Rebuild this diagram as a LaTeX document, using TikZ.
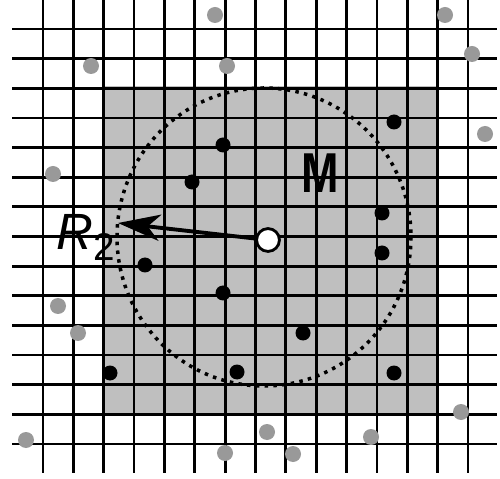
\documentclass[tikz,border=0pt]{standalone}
\usepackage{fontspec}
\setmainfont{Liberation Sans}
\usetikzlibrary{arrows.meta}
\definecolor{boxgray}{gray}{0.75}
\definecolor{dotgray}{gray}{0.6}
\tikzset{
  gridline/.style={line width=1.6pt},
  blackdot/.style={fill=black},
  graydot/.style={fill=dotgray}
}
\begin{document}
\begin{tikzpicture}[x=0.02cm, y=-0.02cm]
    \useasboundingbox (0,0) rectangle (500,479);
    \fill[boxgray] (102,86) rectangle (436,414);
    \foreach \i in {0,...,14}
      \draw[gridline] ({43+30.36*\i},0) -- ({43+30.36*\i},473);
    \foreach \j in {0,...,14}
      \draw[gridline] (12,{29+29.64*\j}) -- (497,{29+29.64*\j});
    \draw[line width=2pt, dash pattern=on 2pt off 3pt] (264,237) ellipse [x radius=147, y radius=149];
    \foreach \px/\py in {394/122, 223/145, 192/182, 382/213, 382/253, 145/265,
                         223/293, 303/333, 110/373, 237/372, 394/373}
      \fill[blackdot] (\px,\py) circle (7.5);
    \foreach \px/\py in {215/15, 91/66, 227/66, 53/174, 445/15, 472/54, 485/134,
                         58/306, 78/333, 26/440, 225/453, 461/412, 267/432, 371/437, 293/454}
      \fill[graydot] (\px,\py) circle (8);
    \node[circle, draw, fill=white, line width=1.6pt, minimum size=13pt, inner sep=0] (centre) at (268,240) {};
    \coordinate (tip) at (118,223);
    \draw[line width=2.2pt, -{Stealth[length=24pt, width=15pt, inset=7pt]}] (centre) -- (tip);
    \node[anchor=base west, inner sep=0] (radius) at (56,250)
      {\fontsize{29}{29}\selectfont\textit{R}\raisebox{-6pt}{\fontsize{22}{22}\selectfont 2}};
    \node[anchor=base west, inner sep=0] (mlabel) at (301,193)
      {\scalebox{0.8}[1]{\fontsize{32}{32}\selectfont\bfseries M}};
\end{tikzpicture}
\end{document}
